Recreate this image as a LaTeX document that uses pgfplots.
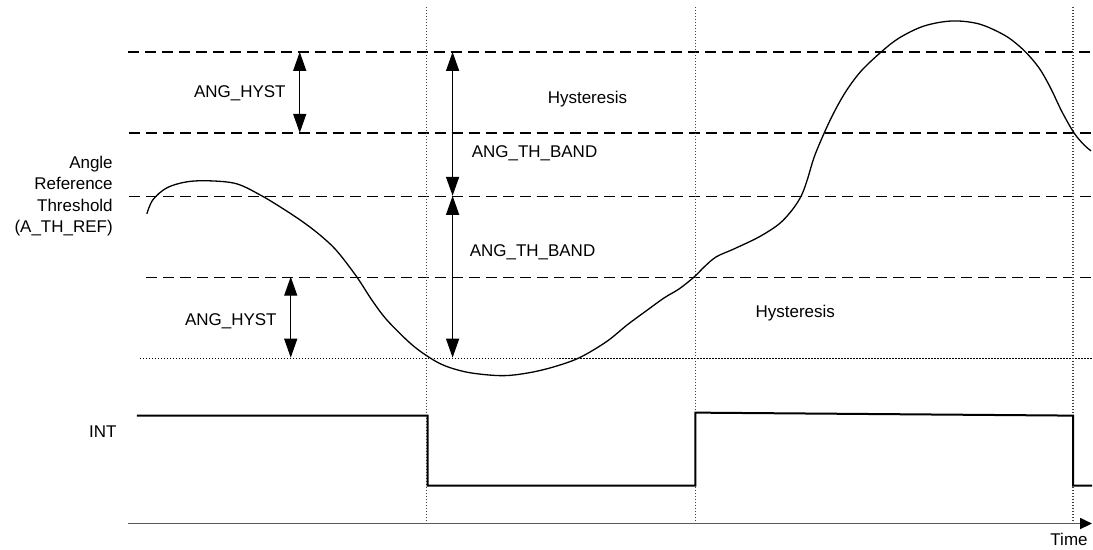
\documentclass[border=0pt]{standalone}
\usepackage{pgfplots}
\pgfplotsset{compat=1.18}
\usepackage{fontspec}
\setmainfont{Liberation Sans}
\usetikzlibrary{arrows.meta}
\begin{document}
\begin{tikzpicture}[x=1pt,y=1pt, lbl/.style={font=\fontsize{17}{21.5}\selectfont}]
\begin{axis}[
  scale only axis, width=1093pt, height=549pt,
  xmin=0, xmax=1093, ymin=0, ymax=549, y dir=reverse,
  enlargelimits=false, hide axis, clip=false,
]
% invisible frame
\addplot[draw=none] coordinates {(0,0) (1093,549)};
% dashed thresholds
\addplot[black, line width=1.3pt, dash pattern=on 11pt off 6pt] coordinates {(128,52) (1093,52)};
\addplot[black, line width=1.3pt, dash pattern=on 11pt off 6pt] coordinates {(129,133) (1093,133)};
\addplot[black, line width=1.3pt, dash pattern=on 11pt off 6pt] coordinates {(129,196.5) (1093,196.5)};
\addplot[black, line width=1.3pt, dash pattern=on 11pt off 6pt] coordinates {(146,277.5) (1093,277.5)};
\addplot[black, line width=1.2pt, dash pattern=on 1.5pt off 1.5pt] coordinates {(140,358.5) (1093,358.5)};
% vertical dotted lines
\addplot[black!75, line width=1.4pt, dash pattern=on 1.5pt off 1.5pt] coordinates {(427,7) (427,523)};
\addplot[black!75, line width=1.4pt, dash pattern=on 1.5pt off 1.5pt] coordinates {(696,7) (696,523)};
\addplot[black!75, line width=1.4pt, dash pattern=on 1.5pt off 1.5pt] coordinates {(1074,7) (1074,523)};
% curve
\addplot[black, line width=1.3pt, smooth, tension=0.55] coordinates {
(147,214) (153,200) (167,188) (187,182) (210,181) (237,184) (262,196)
(285,210) (303,222) (320,235) (337,251) (357,277) (372,300) (387,320) (410,343) (427,356)
(445,366) (470,373) (503,376) (530,373) (555,367)
(580,358) (607,342) (628,325) (647,311) (665,298) (680,289) (695,277)
(705,267) (717,257) (735,249) (760,237) (780,224) (793,210) (802,196) (808,180)
(815,157) (825,133) (835,112) (847,91) (862,71) (882,52) (900,38) (925,26)
(953,21) (980,24) (1005,35) (1020,46) (1032,58) (1042,71) (1052,89) (1063,112)
(1075,133) (1085,145) (1092,151)};
% INT signal
\addplot[black, line width=2pt] coordinates {(137,416) (428,416) (428,486) (696,486) (696,413) (1074,416) (1074,486) (1093,486)};
% time axis
\addplot[black!65, line width=1.8pt, -{Triangle[width=11pt,length=12pt,black]}] coordinates {(128,524) (1093,524)};
% arrows
\addplot[black, line width=1.4pt, {Triangle[width=13pt,length=19pt]}-{Triangle[width=13pt,length=19pt]}] coordinates {(300,52) (300,133)};
\addplot[black, line width=1.4pt, {Triangle[width=13pt,length=19pt]}-{Triangle[width=13pt,length=19pt]}] coordinates {(291,277) (291,358)};
\addplot[black, line width=1.4pt, {Triangle[width=13pt,length=19pt]}-{Triangle[width=13pt,length=19pt]}] coordinates {(453,52) (453,196)};
\addplot[black, line width=1.4pt, {Triangle[width=13pt,length=19pt]}-{Triangle[width=13pt,length=19pt]}] coordinates {(453,196) (453,358)};
% labels
\node[lbl] at (axis cs:240,93) {ANG\_HYST};
\node[lbl] at (axis cs:231,322) {ANG\_HYST};
\node[lbl] at (axis cs:535,153) {ANG\_TH\_BAND};
\node[lbl] at (axis cs:533,252) {ANG\_TH\_BAND};
\node[lbl] at (axis cs:588,99) {Hysteresis};
\node[lbl] at (axis cs:796,313) {Hysteresis};
\node[lbl, anchor=east, align=right, inner sep=0pt] at (axis cs:113,196.5) {Angle\\Reference\\Threshold\\(A\_TH\_REF)};
\node[lbl] at (axis cs:103,432) {INT};
\node[lbl] at (axis cs:1070,540) {Time};
\end{axis}
\end{tikzpicture}
\end{document}
